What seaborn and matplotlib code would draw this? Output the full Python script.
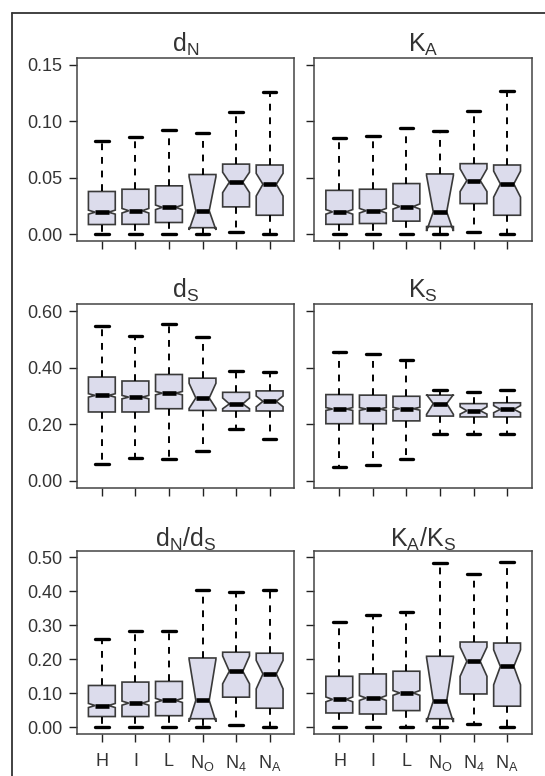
import matplotlib
matplotlib.use("Agg")
import matplotlib.pyplot as plt
import seaborn as sns
from matplotlib.lines import Line2D

# ================== values ==================

groups = ["H", "I", "L", "N_O", "N_4", "N_A"]
group_labels = [r"$\mathregular{H}$", r"$\mathregular{I}$", r"$\mathregular{L}$",
                r"$\mathregular{N_O}$", r"$\mathregular{N_4}$", r"$\mathregular{N_A}$"]

# d_N
dN_lo = [0.0, 0.0, 0.0, 0.0, 0.002, 0.0]
dN_q1 = [0.0088, 0.009, 0.0106, 0.006, 0.0244, 0.017]
dN_med = [0.0197, 0.021, 0.024, 0.021, 0.0462, 0.0444]
dN_q3 = [0.038, 0.040, 0.043, 0.053, 0.0622, 0.0614]
dN_hi = [0.083, 0.086, 0.092, 0.090, 0.108, 0.126]
dN_nlo = [0.018, 0.019, 0.022, 0.004, 0.037, 0.034]
dN_nhi = [0.0215, 0.023, 0.026, 0.051, 0.055, 0.054]

# K_A
KA_lo = [0.0, 0.0, 0.0, 0.0, 0.002, 0.0]
KA_q1 = [0.009, 0.0097, 0.0118, 0.007, 0.0273, 0.017]
KA_med = [0.020, 0.021, 0.0247, 0.020, 0.0476, 0.0447]
KA_q3 = [0.039, 0.040, 0.045, 0.0535, 0.0626, 0.0614]
KA_hi = [0.085, 0.087, 0.094, 0.0915, 0.109, 0.1265]
KA_nlo = [0.018, 0.019, 0.0225, 0.003, 0.038, 0.033]
KA_nhi = [0.022, 0.023, 0.027, 0.052, 0.058, 0.056]

# d_S
dS_lo = [0.058, 0.081, 0.078, 0.107, 0.185, 0.149]
dS_q1 = [0.2435, 0.2435, 0.255, 0.249, 0.247, 0.247]
dS_med = [0.302, 0.296, 0.310, 0.293, 0.272, 0.281]
dS_q3 = [0.367, 0.353, 0.376, 0.363, 0.313, 0.318]
dS_hi = [0.549, 0.513, 0.555, 0.510, 0.387, 0.385]
dS_nlo = [0.296, 0.290, 0.304, 0.256, 0.255, 0.262]
dS_nhi = [0.308, 0.302, 0.316, 0.345, 0.293, 0.300]

# K_S
KS_lo = [0.049, 0.056, 0.078, 0.167, 0.167, 0.167]
KS_q1 = [0.202, 0.202, 0.212, 0.229, 0.226, 0.226]
KS_med = [0.254, 0.254, 0.255, 0.273, 0.248, 0.253]
KS_q3 = [0.305, 0.303, 0.299, 0.303, 0.273, 0.276]
KS_hi = [0.455, 0.447, 0.428, 0.320, 0.315, 0.320]
KS_nlo = [0.249, 0.249, 0.250, 0.235, 0.236, 0.241]
KS_nhi = [0.259, 0.259, 0.260, 0.305, 0.262, 0.266]

# d_N/d_S
dNdS_lo = [0.0, 0.0, 0.0, 0.0, 0.007, 0.0]
dNdS_q1 = [0.0315, 0.0315, 0.034, 0.025, 0.0886, 0.056]
dNdS_med = [0.064, 0.071, 0.079, 0.079, 0.165, 0.157]
dNdS_q3 = [0.123, 0.133, 0.135, 0.204, 0.221, 0.218]
dNdS_hi = [0.261, 0.284, 0.2825, 0.405, 0.399, 0.405]
dNdS_nlo = [0.058, 0.065, 0.073, 0.016, 0.128, 0.113]
dNdS_nhi = [0.070, 0.077, 0.085, 0.200, 0.210, 0.197]

# K_A/K_S
KAKS_lo = [0.0, 0.0, 0.0, 0.0, 0.010, 0.0]
KAKS_q1 = [0.042, 0.039, 0.049, 0.025, 0.098, 0.062]
KAKS_med = [0.082, 0.086, 0.101, 0.077, 0.194, 0.179]
KAKS_q3 = [0.150, 0.157, 0.165, 0.209, 0.251, 0.248]
KAKS_hi = [0.310, 0.330, 0.340, 0.484, 0.450, 0.487]
KAKS_nlo = [0.075, 0.079, 0.094, 0.015, 0.150, 0.125]
KAKS_nhi = [0.089, 0.093, 0.108, 0.205, 0.236, 0.228]

panels = [
    (r"$\mathregular{d_N}$", 0.15, 0.05, [dN_lo, dN_q1, dN_med, dN_q3, dN_hi, dN_nlo, dN_nhi]),
    (r"$\mathregular{K_A}$", 0.15, 0.05, [KA_lo, KA_q1, KA_med, KA_q3, KA_hi, KA_nlo, KA_nhi]),
    (r"$\mathregular{d_S}$", 0.60, 0.20, [dS_lo, dS_q1, dS_med, dS_q3, dS_hi, dS_nlo, dS_nhi]),
    (r"$\mathregular{K_S}$", 0.60, 0.20, [KS_lo, KS_q1, KS_med, KS_q3, KS_hi, KS_nlo, KS_nhi]),
    (r"$\mathregular{d_N/d_S}$", 0.50, 0.10, [dNdS_lo, dNdS_q1, dNdS_med, dNdS_q3, dNdS_hi, dNdS_nlo, dNdS_nhi]),
    (r"$\mathregular{K_A/K_S}$", 0.50, 0.10, [KAKS_lo, KAKS_q1, KAKS_med, KAKS_q3, KAKS_hi, KAKS_nlo, KAKS_nhi]),
]

# ================== style ==================

sns.set_style("white")
plt.rcParams["font.family"] = ["Liberation Sans", "DejaVu Sans"]
plt.rcParams["mathtext.fontset"] = "custom"
plt.rcParams["mathtext.rm"] = "Liberation Sans"
plt.rcParams["mathtext.it"] = "Liberation Sans:italic"

fill = "#dcdcec"
edge = "#3a3a3a"

fig, axes = plt.subplots(3, 2, figsize=(5.45, 7.76), dpi=100)
fig.subplots_adjust(left=0.1413, right=0.976, top=0.9253, bottom=0.0541,
                    wspace=0.092, hspace=0.344)

positions = list(range(1, len(groups) + 1))

for k, (title, ymax, ystep, vals) in enumerate(panels):
    ax = axes[k // 2, k % 2]
    lo, q1, med, q3, hi, nlo, nhi = vals
    stats = []
    for i, g in enumerate(groups):
        stats.append(dict(label=g, whislo=lo[i], q1=q1[i], med=med[i], q3=q3[i],
                          whishi=hi[i], cilo=nlo[i], cihi=nhi[i], fliers=[]))
    ax.bxp(stats, positions=positions, widths=0.8, capwidths=0.4,
           showfliers=False, shownotches=True, patch_artist=True, manage_ticks=False,
           boxprops=dict(facecolor=fill, edgecolor=edge, linewidth=1.2),
           whiskerprops=dict(color="black", linewidth=1.4, linestyle=(0, (3.5, 3.5))),
           capprops=dict(color="black", linewidth=2.4),
           medianprops=dict(color="black", linewidth=3.3))

    # R style limits: range padded by 4 %
    ax.set_xlim(0.5 - 0.24, 6.5 + 0.24)
    ax.set_ylim(-0.04 * ymax, ymax * 1.04)
    nt = int(round(ymax / ystep))
    yt = [j * ystep for j in range(nt + 1)]
    ax.set_yticks(yt)
    ax.set_xticks(positions)
    if k % 2 == 0:
        ax.set_yticklabels(["%.2f" % v for v in yt])
    else:
        ax.set_yticklabels([])
    if k >= 4:
        ax.set_xticklabels(group_labels)
    else:
        ax.set_xticklabels([])
    ax.tick_params(axis="both", direction="out", length=5.5, width=1.0,
                   color="#222222", labelcolor="#333333", labelsize=13,
                   left=True, bottom=True)
    ax.tick_params(axis="x", pad=8)
    ax.tick_params(axis="y", pad=5)
    for s in ax.spines.values():
        s.set_color("#444444")
        s.set_linewidth(1.1)
    ax.set_title(title, fontsize=18, color="#333333", pad=3)

# outer frame (top and left edges visible in the source)
fig.add_artist(Line2D([12 / 545, 12 / 545], [0, 1 - 13 / 776], transform=fig.transFigure,
                      color="#333333", linewidth=1.3))
fig.add_artist(Line2D([12 / 545, 1], [1 - 13 / 776, 1 - 13 / 776], transform=fig.transFigure,
                      color="#333333", linewidth=1.3))

fig.savefig("out.png", dpi=100)
